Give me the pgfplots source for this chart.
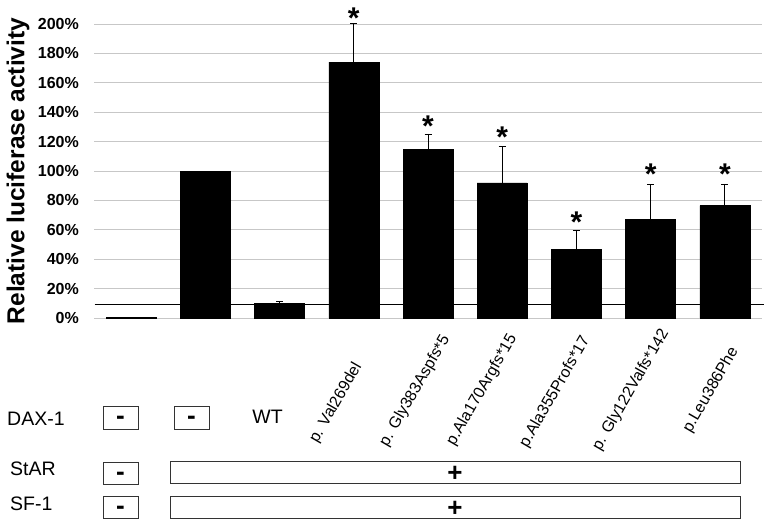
\documentclass[border=0pt]{standalone}
\usepackage{fontspec}
\setmainfont{Liberation Sans}
\usepackage{pgfplots}
\usepackage{pgfplotstable}
\pgfplotsset{compat=1.18}
\pgfplotstableread{
x y err
0 0.5 0
1 100 0
2 10 1.3
3 174 26.6
4 114.7 10.5
5 92 25
6 46.7 13
7 67.1 23.6
8 76.4 14.8
}\bars
\begin{document}
\begin{tikzpicture}
\path[use as bounding box] (0pt,0pt) rectangle (768pt,-523pt);
\begin{axis}[
  at={(94pt,-318pt)}, anchor=south west,
  width=668pt, height=294pt, scale only axis,
  xmin=-0.5, xmax=8.5, ymin=0, ymax=200,
  axis line style={draw=none},
  xtick=\empty,
  ytick={0,20,...,200},
  ymajorgrids, grid style={draw=black!22, line width=0.9pt},
  major tick length=0pt,
  yticklabel={\pgfmathprintnumber[assume math mode=true]{\tick}\%},
  yticklabel style={font=\fontsize{16}{16}\selectfont\bfseries, inner sep=0pt, xshift=-15pt},
  clip=false,
]
\addplot[ybar, bar width=50pt, fill=black, draw=black,
  error bars/.cd, y dir=plus, y explicit,
  error bar style={line width=0.8pt, black},
  error mark options={rotate=90, mark size=3.5pt, line width=0.8pt, black}]
  table[x=x, y=y, y error=err] {\bars};
\addplot[black, line width=1.2pt, mark=none] coordinates {(-0.49,9.3) (8.53,9.3)};
\foreach \i/\v in {3/210.9, 4/137.4, 5/129.9, 6/72.1, 7/104.8, 8/104.8}{
  \edef\tmp{\noexpand\node[anchor=north, inner sep=0pt, font=\noexpand\fontsize{30}{30}\noexpand\selectfont\noexpand\bfseries] at (axis cs:\i,\v) {*};}
  \tmp
}
\end{axis}
\node[rotate=90, font=\fontsize{24.5}{24.5}\selectfont\bfseries] at (18pt,-171pt) {Relative luciferase activity};
% rotated category labels
\begin{scope}[every node/.style={rotate=60, font=\fontsize{16}{16}\selectfont, inner sep=0pt}]
\node at (336pt,-403pt) {p. Val269del};
\node at (415pt,-391pt) {p. Gly383Aspfs*5};
\node at (482pt,-390pt) {p.Ala170Argfs*15};
\node at (555pt,-392pt) {p.Ala355Profs*17};
\node at (631pt,-390pt) {p. Gly122Valfs*142};
\node at (711pt,-390pt) {p.Leu386Phe};
\end{scope}
% row labels
\begin{scope}[every node/.style={font=\fontsize{19.5}{19.5}\selectfont, inner sep=0pt}]
\node[anchor=west] at (7pt,-419pt) {DAX-1};
\node[anchor=west] at (10pt,-469pt) {StAR};
\node[anchor=west] at (10pt,-504pt) {SF-1};
\node at (267.5pt,-417pt) {WT};
\end{scope}
% boxes
\begin{scope}[draw=black!80, line width=0.9pt]
\draw (103pt,-406pt) rectangle (138pt,-429pt);
\draw (174pt,-406pt) rectangle (209pt,-429pt);
\draw (103pt,-462pt) rectangle (138pt,-484pt);
\draw (103pt,-496pt) rectangle (138pt,-518pt);
\draw (170pt,-461pt) rectangle (740pt,-483pt);
\draw (170pt,-496pt) rectangle (740pt,-518pt);
\end{scope}
\begin{scope}[every node/.style={font=\fontsize{26}{26}\selectfont\bfseries, inner sep=0pt, anchor=base}]
\node at (120.5pt,-424.5pt) {-};
\node at (191.5pt,-424.5pt) {-};
\node at (120.5pt,-480pt) {-};
\node at (120.5pt,-514pt) {-};
\node at (455pt,-481pt) {+};
\node at (455pt,-516pt) {+};
\end{scope}
\end{tikzpicture}
\end{document}
